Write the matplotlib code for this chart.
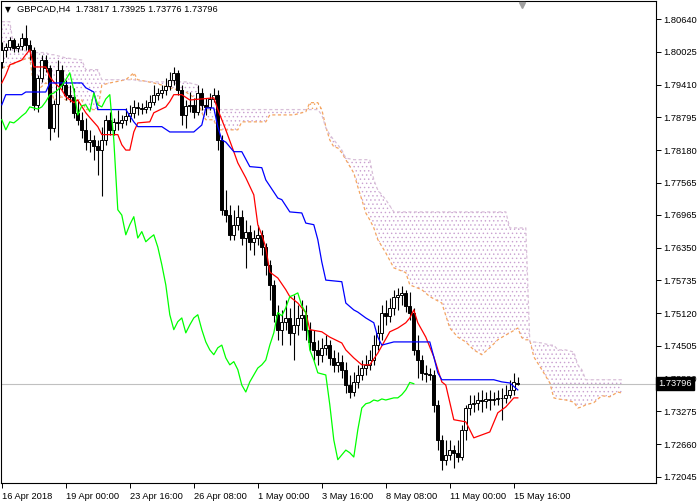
import numpy as np
import matplotlib.pyplot as plt
from matplotlib import transforms

plt.rcParams['font.family'] = ['Liberation Sans', 'DejaVu Sans']
plt.rcParams['hatch.linewidth'] = 0.5

# GBPCAD H4, one bar per 4 hours from 16 Apr 2018 08:00
opens = [1.7984, 1.8006, 1.8012, 1.8025, 1.8010, 1.8014, 1.8029, 1.8016, 1.8006, 1.7903,
         1.7954, 1.7987, 1.7972, 1.7860, 1.7905, 1.7969, 1.7940, 1.7922, 1.7918, 1.7888,
         1.7875, 1.7856, 1.7833, 1.7837, 1.7826, 1.7818, 1.7837, 1.7875, 1.7856, 1.7871,
         1.7869, 1.7875, 1.7882, 1.7888, 1.7899, 1.7897, 1.7895, 1.7899, 1.7909, 1.7922,
         1.7925, 1.7931, 1.7939, 1.7950, 1.7963, 1.7931, 1.7884, 1.7901, 1.7903, 1.7890,
         1.7925, 1.7903, 1.7899, 1.7914, 1.7922, 1.7837, 1.7706, 1.7696, 1.7659, 1.7678,
         1.7693, 1.7653, 1.7665, 1.7646, 1.7653, 1.7659, 1.7636, 1.7603, 1.7565, 1.7509,
         1.7481, 1.7496, 1.7503, 1.7475, 1.7490, 1.7503, 1.7509, 1.7481, 1.7458, 1.7443,
         1.7434, 1.7447, 1.7452, 1.7428, 1.7415, 1.7421, 1.7406, 1.7377, 1.7364, 1.7383,
         1.7396, 1.7409, 1.7415, 1.7424, 1.7452, 1.7475, 1.7513, 1.7507, 1.7522, 1.7543,
         1.7546, 1.7550, 1.7526, 1.7513, 1.7443, 1.7424, 1.7400, 1.7398, 1.7396, 1.7340,
         1.7274, 1.7237, 1.7246, 1.7255, 1.7250, 1.7242, 1.7293, 1.7334, 1.7342, 1.7344,
         1.7349, 1.7347, 1.7351, 1.7349, 1.7351, 1.7353, 1.7353, 1.7359, 1.7368, 1.73817]
highs = [1.8021, 1.8019, 1.8031, 1.8029, 1.8019, 1.8038, 1.8053, 1.8025, 1.8012, 1.7959,
         1.7997, 1.7997, 1.7978, 1.7912, 1.7987, 1.7978, 1.7950, 1.7940, 1.7935, 1.7912,
         1.7890, 1.7879, 1.7856, 1.7847, 1.7837, 1.7862, 1.7884, 1.7890, 1.7879, 1.7894,
         1.7884, 1.7897, 1.7903, 1.7912, 1.7909, 1.7907, 1.7912, 1.7922, 1.7940, 1.7935,
         1.7940, 1.7954, 1.7965, 1.7974, 1.7969, 1.7940, 1.7912, 1.7927, 1.7916, 1.7940,
         1.7935, 1.7916, 1.7925, 1.7935, 1.7931, 1.7847, 1.7743, 1.7715, 1.7706, 1.7715,
         1.7706, 1.7687, 1.7678, 1.7668, 1.7678, 1.7668, 1.7644, 1.7612, 1.7574, 1.7528,
         1.7518, 1.7537, 1.7522, 1.7546, 1.7528, 1.7537, 1.7528, 1.7496, 1.7481, 1.7462,
         1.7466, 1.7471, 1.7462, 1.7443, 1.7439, 1.7434, 1.7421, 1.7396, 1.7402, 1.7415,
         1.7424, 1.7434, 1.7443, 1.7471, 1.7490, 1.7528, 1.7537, 1.7541, 1.7556, 1.7559,
         1.7563, 1.7556, 1.7552, 1.7522, 1.7471, 1.7434, 1.7415, 1.7409, 1.7406, 1.7349,
         1.7284, 1.7274, 1.7274, 1.7265, 1.7274, 1.7302, 1.7340, 1.7359, 1.7359, 1.7364,
         1.7368, 1.7364, 1.7368, 1.7364, 1.7368, 1.7372, 1.7377, 1.7387, 1.7400, 1.73925]
lows = [1.7972, 1.7993, 1.8006, 1.8002, 1.8002, 1.8006, 1.8006, 1.7987, 1.7894, 1.7890,
        1.7946, 1.7965, 1.7837, 1.7852, 1.7843, 1.7931, 1.7912, 1.7909, 1.7879, 1.7865,
        1.7841, 1.7818, 1.7815, 1.7800, 1.7772, 1.7732, 1.7828, 1.7847, 1.7847, 1.7856,
        1.7860, 1.7865, 1.7871, 1.7879, 1.7884, 1.7886, 1.7888, 1.7894, 1.7903, 1.7912,
        1.7916, 1.7922, 1.7931, 1.7940, 1.7922, 1.7865, 1.7860, 1.7890, 1.7879, 1.7884,
        1.7894, 1.7884, 1.7894, 1.7909, 1.7818, 1.7696, 1.7683, 1.7650, 1.7650, 1.7668,
        1.7640, 1.7597, 1.7631, 1.7621, 1.7640, 1.7621, 1.7584, 1.7537, 1.7496, 1.7462,
        1.7452, 1.7481, 1.7452, 1.7424, 1.7471, 1.7481, 1.7462, 1.7443, 1.7424, 1.7415,
        1.7421, 1.7434, 1.7415, 1.7402, 1.7402, 1.7390, 1.7362, 1.7353, 1.7357, 1.7372,
        1.7387, 1.7396, 1.7406, 1.7415, 1.7443, 1.7462, 1.7490, 1.7496, 1.7509, 1.7518,
        1.7528, 1.7514, 1.7499, 1.7434, 1.7390, 1.7387, 1.7383, 1.7387, 1.7327, 1.7255,
        1.7218, 1.7227, 1.7237, 1.7222, 1.7233, 1.7237, 1.7274, 1.7321, 1.7327, 1.7330,
        1.7327, 1.7334, 1.7330, 1.7340, 1.7340, 1.7312, 1.7344, 1.7353, 1.7359, 1.73776]
closes = [1.8006, 1.8012, 1.8025, 1.8010, 1.8014, 1.8029, 1.8016, 1.8006, 1.7903, 1.7954,
          1.7987, 1.7972, 1.7860, 1.7905, 1.7969, 1.7940, 1.7922, 1.7918, 1.7888, 1.7875,
          1.7856, 1.7833, 1.7837, 1.7826, 1.7818, 1.7837, 1.7875, 1.7856, 1.7871, 1.7869,
          1.7875, 1.7882, 1.7888, 1.7899, 1.7897, 1.7895, 1.7899, 1.7909, 1.7922, 1.7925,
          1.7931, 1.7939, 1.7950, 1.7963, 1.7931, 1.7884, 1.7901, 1.7903, 1.7890, 1.7925,
          1.7903, 1.7899, 1.7914, 1.7922, 1.7837, 1.7706, 1.7696, 1.7659, 1.7678, 1.7693,
          1.7653, 1.7665, 1.7646, 1.7653, 1.7659, 1.7636, 1.7603, 1.7565, 1.7509, 1.7481,
          1.7496, 1.7503, 1.7475, 1.7490, 1.7503, 1.7509, 1.7481, 1.7458, 1.7443, 1.7434,
          1.7447, 1.7452, 1.7428, 1.7415, 1.7421, 1.7406, 1.7377, 1.7364, 1.7383, 1.7396,
          1.7409, 1.7415, 1.7424, 1.7452, 1.7475, 1.7513, 1.7507, 1.7522, 1.7543, 1.7546,
          1.7550, 1.7526, 1.7513, 1.7443, 1.7424, 1.7400, 1.7398, 1.7396, 1.7340, 1.7274,
          1.7237, 1.7246, 1.7255, 1.7250, 1.7242, 1.7293, 1.7334, 1.7342, 1.7344, 1.7349,
          1.7347, 1.7351, 1.7349, 1.7351, 1.7353, 1.7353, 1.7359, 1.7368, 1.7382, 1.73796]

# Ichimoku lines, read at their turning points (bar index, price)
tenkan_bar = [0, 1, 2, 5, 6, 7, 8, 11, 12, 13, 15, 16, 18, 19, 21, 22, 24, 25, 29, 30,
              31, 32, 33, 34, 37, 38, 41, 42, 43, 45, 47, 53, 54, 56, 58, 59, 61, 63, 64, 65,
              66, 67, 69, 71, 72, 74, 76, 77, 80, 82, 85, 86, 88, 90, 92, 94, 97, 99, 101, 102,
              103, 104, 106, 108, 110, 111, 113, 116, 118, 122, 124, 126, 128, 129]
tenkan = [1.7944, 1.7959, 1.7978, 1.7987, 1.7997, 1.8006, 1.7974, 1.7974, 1.7955, 1.7946,
          1.7931, 1.7918, 1.7907, 1.7912, 1.7888, 1.7879, 1.7862, 1.7847, 1.7847, 1.7828,
          1.7818, 1.7818, 1.7852, 1.7869, 1.7871, 1.7888, 1.7899, 1.7909, 1.7922, 1.7922,
          1.7912, 1.7916, 1.7894, 1.7856, 1.7815, 1.7794, 1.7766, 1.7734, 1.7678, 1.7659,
          1.7635, 1.7589, 1.7578, 1.7556, 1.7543, 1.7531, 1.7513, 1.7481, 1.7477, 1.7467,
          1.7456, 1.7443, 1.7428, 1.7415, 1.7415, 1.7437, 1.7477, 1.7484, 1.7494, 1.7503,
          1.7518, 1.7494, 1.7467, 1.7430, 1.7383, 1.7377, 1.7312, 1.7308, 1.7278, 1.7289,
          1.7325, 1.7336, 1.7353, 1.7353]

kijun_bar = [0, 1, 5, 6, 11, 12, 20, 21, 23, 24, 31, 33, 34, 40, 42, 48, 50, 51, 53, 54,
             55, 56, 58, 60, 62, 65, 66, 69, 70, 72, 75, 76, 78, 79, 80, 81, 85, 86, 88, 89,
             91, 93, 94, 95, 98, 107, 108, 109, 110, 123, 125, 127, 129]
kijun = [1.7903, 1.7922, 1.7922, 1.7927, 1.7927, 1.7944, 1.7944, 1.7935, 1.7927, 1.7894,
         1.7894, 1.7871, 1.7862, 1.7862, 1.7852, 1.7852, 1.7865, 1.7897, 1.7897, 1.7862,
         1.7837, 1.7833, 1.7815, 1.7815, 1.7787, 1.7785, 1.7762, 1.7728, 1.7725, 1.7702,
         1.7700, 1.7681, 1.7678, 1.7650, 1.7608, 1.7574, 1.7571, 1.7531, 1.7518, 1.7514,
         1.7503, 1.7494, 1.7467, 1.7452, 1.7458, 1.7458, 1.7430, 1.7400, 1.7387, 1.7387,
         1.7383, 1.7381, 1.7368]

cloud_bar = [0, 2, 3, 5, 7, 8, 9, 11, 12, 13, 15, 16, 20, 21, 24, 25, 27, 31, 33, 34,
             38, 40, 42, 44, 46, 49, 50, 51, 53, 54, 59, 60, 66, 67, 73, 75, 76, 77, 79, 80,
             81, 82, 83, 84, 85, 86, 88, 89, 90, 91, 92, 93, 94, 96, 98, 101, 102, 105, 107, 110,
             112, 114, 116, 118, 120, 122, 124, 126, 127, 129, 130, 131, 132, 133, 135, 137, 138, 139, 141, 143,
             144, 145, 146, 148, 150, 152, 154, 155]
span_a = [1.7972, 1.7976, 1.7980, 1.7987, 1.7991, 1.7937, 1.7931, 1.7944, 1.7940, 1.7912,
          1.7918, 1.7912, 1.7912, 1.7894, 1.7894, 1.7940, 1.7944, 1.7950, 1.7963, 1.7950,
          1.7944, 1.7940, 1.7935, 1.7931, 1.7927, 1.7912, 1.7888, 1.7875, 1.7875, 1.7856,
          1.7856, 1.7871, 1.7871, 1.7884, 1.7884, 1.7888, 1.7890, 1.7907, 1.7907, 1.7894,
          1.7862, 1.7837, 1.7824, 1.7822, 1.7813, 1.7800, 1.7775, 1.7749, 1.7725, 1.7700,
          1.7687, 1.7672, 1.7650, 1.7625, 1.7597, 1.7588, 1.7565, 1.7556, 1.7543, 1.7531,
          1.7484, 1.7467, 1.7458, 1.7443, 1.7434, 1.7447, 1.7462, 1.7471, 1.7475, 1.7484,
          1.7466, 1.7462, 1.7462, 1.7430, 1.7406, 1.7381, 1.7353, 1.7351, 1.7349, 1.7345,
          1.7334, 1.7336, 1.7340, 1.7344, 1.7357, 1.7355, 1.7364, 1.7362]
span_b = [1.8059, 1.8059, 1.8010, 1.8006, 1.8002, 1.8001, 1.8001, 1.8001, 1.7997, 1.7997,
          1.7993, 1.7991, 1.7987, 1.7969, 1.7969, 1.7950, 1.7950, 1.7950, 1.7950, 1.7948,
          1.7946, 1.7946, 1.7946, 1.7946, 1.7946, 1.7940, 1.7894, 1.7894, 1.7894, 1.7894,
          1.7894, 1.7894, 1.7894, 1.7894, 1.7894, 1.7894, 1.7894, 1.7894, 1.7894, 1.7884,
          1.7860, 1.7847, 1.7837, 1.7828, 1.7818, 1.7803, 1.7800, 1.7800, 1.7800, 1.7800,
          1.7800, 1.7762, 1.7743, 1.7725, 1.7702, 1.7702, 1.7702, 1.7702, 1.7702, 1.7702,
          1.7702, 1.7702, 1.7702, 1.7702, 1.7702, 1.7702, 1.7702, 1.7702, 1.7672, 1.7672,
          1.7672, 1.7672, 1.7458, 1.7458, 1.7456, 1.7452, 1.7452, 1.7443, 1.7443, 1.7439,
          1.7415, 1.7406, 1.7387, 1.7387, 1.7387, 1.7387, 1.7387, 1.7387]

tick_bars = [0, 16, 32, 48, 64, 80, 96, 112, 128]
tick_dates = ['16 Apr 2018', '19 Apr 00:00', '23 Apr 16:00', '26 Apr 08:00', '1 May 00:00',
              '3 May 16:00', '8 May 08:00', '11 May 00:00', '15 May 16:00']
price_ticks = [1.80640, 1.80025, 1.79410, 1.78795, 1.78180, 1.77565, 1.76965, 1.76350,
               1.75735, 1.75120, 1.74505, 1.73890, 1.73275, 1.72660, 1.72045]
shift = 26

o = np.array(opens)
h = np.array(highs)
l = np.array(lows)
c = np.array(closes)
x = np.arange(len(c))

fig = plt.figure(figsize=(7, 5.04), dpi=100)
ax = fig.add_axes([1 / 700, 21 / 504, 655 / 700, 482 / 504])

# kumo, dotted like the terminal draws it
a = np.array(span_a)
b = np.array(span_b)
ax.fill_between(cloud_bar, a, b, where=b >= a, interpolate=True, facecolor='none',
                edgecolor='#c9a0d0', hatch='....', linewidth=0, zorder=1)
ax.fill_between(cloud_bar, a, b, where=a > b, interpolate=True, facecolor='none',
                edgecolor='#f4a460', hatch='....', linewidth=0, zorder=1)
ax.plot(cloud_bar, span_a, color='#f4a460', lw=0.9, ls=(0, (2.5, 2)), zorder=2)
ax.plot(cloud_bar, span_b, color='#d8bfd8', lw=0.9, ls=(0, (2.5, 2)), zorder=2)

# bid line
ax.axhline(closes[-1], color='#c0c0c0', lw=0.8, zorder=2)

# candles
ax.vlines(x, l, h, color='black', lw=0.8, zorder=3)
up = c >= o
ax.bar(x[up], (c - o)[up], bottom=o[up], width=0.7, color='white',
       edgecolor='black', lw=0.7, zorder=4)
ax.bar(x[~up], (c - o)[~up], bottom=o[~up], width=0.7, color='black',
       edgecolor='black', lw=0.7, zorder=4)

# ichimoku lines
ax.plot(tenkan_bar, tenkan, color='#ff0000', lw=0.9, zorder=5)
ax.plot(kijun_bar, kijun, color='#0000ff', lw=0.9, zorder=5)
ax.plot(x[:-shift], c[shift:], color='#00ff00', lw=0.9, zorder=5)

ax.set_xlim(-0.2, 163.55)
ax.set_ylim(1.719324, 1.809778)

for s in ax.spines.values():
    s.set_linewidth(0.8)
    s.set_color('black')

ax.yaxis.tick_right()
ax.set_yticks(price_ticks)
ax.set_yticklabels([f'{p:.5f}' for p in price_ticks])
ax.set_xticks(tick_bars)
ax.set_xticklabels(tick_dates)
for lbl in ax.get_xticklabels():
    lbl.set_ha('left')
ax.tick_params(axis='both', direction='out', length=3.5, width=0.7,
               labelsize=6.7, colors='black', pad=2)
ax.tick_params(axis='x', pad=3)

# current price box
tr = transforms.blended_transform_factory(ax.transAxes, ax.transData)
ax.text(1.0035, closes[-1], f'{closes[-1]:.5f}', transform=tr, fontsize=6.7,
        color='white', va='center', ha='left', zorder=10,
        bbox=dict(boxstyle='square,pad=0.22', facecolor='black', edgecolor='black'))

# chart shift marker
tr2 = transforms.blended_transform_factory(ax.transData, ax.transAxes)
ax.plot([len(c)], [0.992], marker='v', color='#a0a0a0', markersize=5,
        transform=tr2, clip_on=False, zorder=6)

ax.text(0.006, 0.982, '\u25bc', transform=ax.transAxes, fontsize=5.5,
        family='DejaVu Sans', va='center', ha='left')
ax.text(0.024, 0.982,
        f'GBPCAD,H4  {opens[-1]:.5f} {highs[-1]:.5f} {lows[-1]:.5f} {closes[-1]:.5f}',
        transform=ax.transAxes, fontsize=6.7, va='center', ha='left')

fig.savefig('out.png', dpi=100)
